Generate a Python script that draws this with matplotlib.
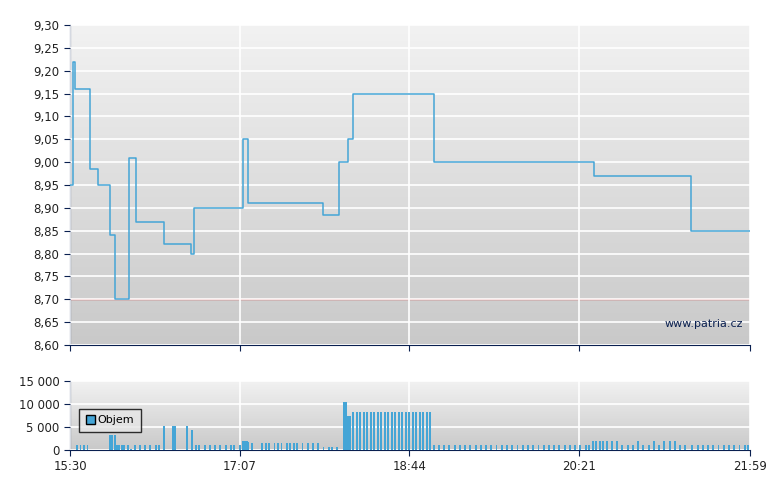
import matplotlib
matplotlib.use("Agg")
import matplotlib.pyplot as plt
import numpy as np

# minutes after 15:30
price_t = [0, 1.5, 3, 11, 11.5, 16, 23, 26, 33, 34, 37, 38, 54, 67, 69, 71, 98, 99, 102, 144, 145, 153, 154, 158, 159, 161, 162, 206, 208, 299, 300, 354, 355, 389]
price_v = [8.95, 9.22, 9.16, 9.16, 8.985, 8.95, 8.84, 8.70, 8.70, 9.01, 9.01, 8.87, 8.82, 8.82, 8.80, 8.90, 8.90, 9.05, 8.91, 8.91, 8.885, 8.885, 9.00, 9.00, 9.05, 9.05, 9.15, 9.15, 9.00, 9.00, 8.97, 8.97, 8.85, 8.85]
prev_close = 8.70

vol_t = [4, 6, 8, 10, 23, 24, 26, 27, 28, 30, 31, 33, 35, 37, 40, 43, 46, 49, 51, 54, 59, 60, 67, 70,
         72, 74, 77, 80, 83, 86, 89, 92, 94, 97, 99, 100, 101, 102, 104, 110, 112, 114, 117, 119, 121,
         124, 126, 128, 130, 133, 136, 139, 142, 145, 148, 150, 153, 157, 158, 159, 160,
         162, 164, 166, 168, 170, 172, 174, 176, 178, 180, 182, 184, 186, 188, 190, 192, 194, 196,
         198, 200, 202, 204, 206,
         208, 211, 214, 217, 220, 223, 226, 229, 232, 235, 238, 241, 244, 247, 250, 253, 256, 259,
         262, 265, 268, 271, 274, 277, 280, 283, 286, 289, 292, 295, 297,
         299, 301, 303, 305, 307, 310, 313, 316, 319, 322, 325, 328, 331, 334, 337, 340, 343, 346,
         349, 352, 356, 359, 362, 365, 368, 371, 374, 377, 380, 383, 386, 388]
vol_v = [1000, 1000, 1000, 1000, 3300, 3300, 3300, 1000, 1000, 1000, 1000, 1000, 300, 1000, 1000, 1000, 1000, 1000, 1000, 5200, 5200, 5200, 5200, 4300,
         1000, 1000, 1000, 1000, 1000, 1000, 1000, 1000, 1000, 1000, 2000, 2000, 2000, 1800, 1500, 1500, 1500, 1500, 1500, 1500, 1500,
         1500, 1500, 1500, 1500, 1500, 1500, 1500, 1500, 700, 700, 700, 700, 10500, 10500, 7300, 7300,
         8250, 8250, 8250, 8250, 8250, 8250, 8250, 8250, 8250, 8250, 8250, 8250, 8250, 8250, 8250, 8250, 8250, 8250,
         8250, 8250, 8250, 8250, 8250,
         1000, 1000, 1000, 1000, 1000, 1000, 1000, 1000, 1000, 1000, 1000, 1000, 1000, 1000, 1000, 1000, 1000, 1000,
         1000, 1000, 1000, 1000, 1000, 1000, 1000, 1000, 1000, 1000, 1000, 1000, 1000,
         2000, 2000, 2000, 2000, 2000, 2000, 2000, 1000, 1000, 1000, 2000, 1000, 1000, 2000, 1000, 2000, 2000, 2000,
         1000, 1000, 1000, 1000, 1000, 1000, 1000, 1000, 1000, 1000, 1000, 1000, 1000, 1000]

tick_t = [0, 97, 194, 291, 389]
tick_lbl = ["15:30", "17:07", "18:44", "20:21", "21:59"]

NAVY = "#0a2050"
LINE = "#45a5d6"

fig = plt.figure(figsize=(7.8, 4.9), dpi=100)
ax = fig.add_axes([70/780, 145/490, 680/780, 320/490])
axv = fig.add_axes([70/780, 40/490, 680/780, 69/490])

grad = np.linspace(0, 1, 256).reshape(-1, 1)
for a, (lo, hi) in ((ax, (8.60, 9.30)), (axv, (0, 15000))):
    a.imshow(grad, extent=[0, 389, lo, hi], aspect="auto", cmap=plt.matplotlib.colors.LinearSegmentedColormap.from_list("g", ["#f2f2f2", "#c9c9c9"]),
             origin="upper", zorder=0)
    a.set_xlim(0, 389)
    a.set_ylim(lo, hi)
    a.grid(True, color="white", lw=1.2, zorder=1)
    a.set_axisbelow(False)
    for s in ("top", "right"):
        a.spines[s].set_visible(False)
    for s in ("left", "bottom"):
        a.spines[s].set_color(NAVY)
    a.tick_params(colors=NAVY, labelsize=8.5, length=4, labelcolor="#222222")
    a.set_xticks(tick_t)

ax.step(price_t, price_v, where="post", color=LINE, lw=1.1, zorder=3)
ax.axhline(prev_close, color="#d05050", lw=1, zorder=2)
yt = np.arange(8.60, 9.301, 0.05)
ax.set_yticks(yt)
ax.set_yticklabels([f"{v:.2f}".replace(".", ",") for v in yt])
ax.set_xticklabels([])
ax.text(0.99, 0.05, "www.patria.cz", transform=ax.transAxes, ha="right", va="bottom", fontsize=8, color=NAVY, zorder=4)

axv.bar(vol_t, vol_v, width=1.1, color=LINE, zorder=3, label="Objem")
axv.set_yticks([0, 5000, 10000, 15000])
axv.set_yticklabels(["0", "5 000", "10 000", "15 000"])
axv.set_xticklabels(tick_lbl)
leg = axv.legend(loc="upper left", bbox_to_anchor=(0.005, 0.68), fontsize=8, frameon=True, fancybox=False,
                 handlelength=0.8, handleheight=0.8, borderpad=0.6, handletextpad=0.3)
leg.get_frame().set_edgecolor("black")
leg.get_frame().set_facecolor("#e6e6e6")
for p in leg.get_patches():
    p.set_edgecolor("black")
leg.set_zorder(5)

fig.savefig("out.png", dpi=100)
